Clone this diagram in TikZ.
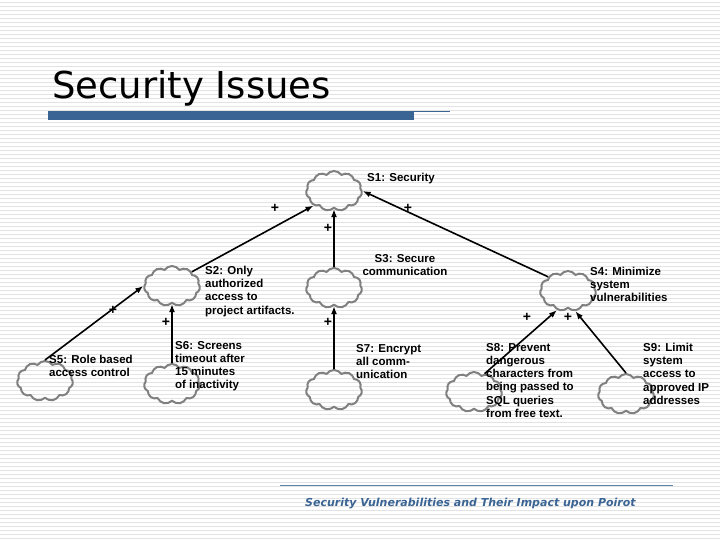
\documentclass[tikz,border=0pt]{standalone}
\usepackage{fontspec}
\setmainfont{Liberation Sans}
\newfontfamily\titlefont{DejaVu Sans}
\usetikzlibrary{shapes.symbols,arrows.meta}
\definecolor{bar}{HTML}{3A6494}
\begin{document}
\begin{tikzpicture}[x=1pt,y=-1pt,
  cl/.style={cloud,cloud puffs=11,cloud puff arc=110,draw=black!50,line width=2pt,minimum width=56pt,minimum height=40pt,inner sep=0pt,aspect=1.4},
  lbl/.style={font=\fontsize{11.5}{13.2}\selectfont\bfseries,align=left,anchor=north west,inner sep=0pt},
  ar/.style={-{Latex[length=8pt,width=6pt]},line width=1.6pt},
  pl/.style={font=\fontsize{14}{14}\selectfont\bfseries,inner sep=0pt}]
\useasboundingbox (0,0) rectangle (720,540);
\fill[white] (0,0) rectangle (720,540);
\foreach \y in {2,6,...,538} \draw[gray!22,line width=0.6pt] (0,\y) -- (720,\y);
\node[font=\titlefont\fontsize{37}{40}\selectfont,anchor=base west,inner sep=0pt] (title) at (52,99) {Security Issues};
\fill[bar] (48,111) rectangle (414,120);
\draw[bar,line width=0.6pt] (414,111) -- (450,111);
\draw[bar!80,line width=0.8pt] (280,485) -- (673,485);
\node[font=\titlefont\fontsize{11}{13}\selectfont\bfseries\itshape,text=bar,anchor=base west,inner sep=0pt] (foot) at (305,506) {Security Vulnerabilities and Their Impact upon Poirot};

\node[cl] (s1) at (334,191) {};
\node[cl] (s2) at (172,286) {};
\node[cl] (s3) at (334,288) {};
\node[cl] (s4) at (568,291) {};
\node[cl] (s5) at (45,381) {};
\node[cl] (s6) at (172,384) {};
\node[cl] (s7) at (334,390) {};
\node[cl] (s8) at (474,392) {};
\node[cl] (s9) at (626,394) {};

\node[lbl] (l1) at (367,173) {S1: Security};
\node[lbl] (l2) at (205,266) {S2: Only\\authorized\\access to\\project artifacts.};
\node[lbl,align=center,anchor=north] (l3) at (405,254) {S3: Secure\\communication};
\node[lbl] (l4) at (590,267) {S4: Minimize\\system\\vulnerabilities};
\node[lbl] (l5) at (49,355) {S5: Role based\\access control};
\node[lbl] (l6) at (175,341) {S6: Screens\\timeout after\\15 minutes\\of inactivity};
\node[lbl] (l7) at (356,344) {S7: Encrypt\\all comm-\\unication};
\node[lbl] (l8) at (486,343) {S8: Prevent\\dangerous\\characters from\\being passed to\\SQL queries\\from free text.};
\node[lbl] (l9) at (643,343) {S9: Limit\\system\\access to\\approved IP\\addresses};

\draw[ar] (s2.north east) -- (s1.south west);
\draw[ar] (s4.north west) -- (s1.east);
\draw[ar] (s3.north) -- (s1.south);
\draw[ar] (s5.north) -- (s2.west);
\draw[ar] (s6.north) -- (s2.south);
\draw[ar] (s7.north) -- (s3.south);
\draw[ar] (s8.60) -- (s4.240);
\draw[ar] (s9.north) -- (s4.290);

\node[pl] (p1) at (275,208) {+};
\node[pl] (p2) at (408,208) {+};
\node[pl] (p3) at (328,228) {+};
\node[pl] (p4) at (113,310) {+};
\node[pl] (p5) at (166,322) {+};
\node[pl] (p6) at (328,322) {+};
\node[pl] (p7) at (527,317) {+};
\node[pl] (p8) at (568,317) {+};
\end{tikzpicture}
\end{document}
